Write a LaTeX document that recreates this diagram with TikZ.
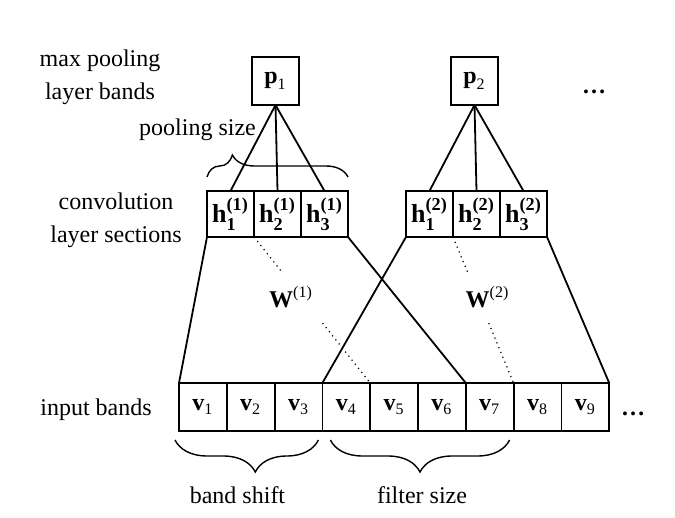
\documentclass[tikz,border=0pt]{standalone}
\usepackage{fontspec}
\setmainfont{Liberation Serif}
\usepackage{amsmath}
\usetikzlibrary{calc}
\usetikzlibrary{decorations.pathreplacing}
% cell widths on the drawing grid
\newcommand{\bandw}{47.8}
\newcommand{\secw}{47}
% one convolution layer section: #1 = section, #2 = left edge
\newcommand{\tikzsection}[2]{%
\foreach \k in {1,2,3} {%
  \node[seccell] (h#1\k) at (#2+\secw*\k-\secw/2,214) {$\textbf{h}^{\textbf{(#1)}}_{\textbf{\k}}$};
}
}

\begin{document}
\begin{tikzpicture}[x=0.5pt,y=-0.5pt,
  font=\fontsize{12}{16.5}\selectfont,
  box/.style={draw,line width=0.9pt,inner sep=0pt,outer sep=0pt},
  bandcell/.style={box,minimum width=23.9pt,minimum height=24pt},
  seccell/.style={box,minimum width=23.5pt,minimum height=23pt,font=\fontsize{13}{15}\selectfont},
  poolcell/.style={box,minimum width=23.5pt,minimum height=24pt},
  wire/.style={line width=0.9pt},
  weight/.style={dotted,line width=0.6pt},
  bracket/.style={decorate,line width=0.7pt},
  caption/.style={align=center,inner sep=0pt}]
\useasboundingbox (0,0) rectangle (675,518);
% input bands
\foreach \i in {1,...,9} {
  \node[bandcell] (v\i) at (179+\bandw*\i-\bandw/2,407) {$\textbf{v}_{\text{\i}}$};
}
% convolution layer sections
\tikzsection{1}{207}
\tikzsection{2}{406}
% max pooling layer bands
\node[poolcell] (p1) at (275.5,81) {$\textbf{p}_{\text{1}}$};
\node[poolcell] (p2) at (474.5,81) {$\textbf{p}_{\text{2}}$};
\node[caption] (more1) at (594,92) {\textbf{\dots}};
\node[caption] (more2) at (633,414) {\textbf{\dots}};

% pooling
\foreach \s in {1,2} {
  \foreach \k in {1,2,3} {
    \draw[wire] (p\s.south) -- (h\s\k.north);
  }
}
% filters
\draw[wire] (h11.south west) -- (v1.north west);
\draw[wire] (h13.south east) -- (v6.north east);
\draw[wire] (h21.south west) -- (v4.north west);
\draw[wire] (h23.south east) -- (v9.north east);
% weights, broken at the W labels
\draw[weight] (h11.south east) -- ($(h11.south east)!0.24!(v4.north east)$)
  ($(h11.south east)!0.59!(v4.north east)$) -- (v4.north east);
\draw[weight] (h21.south east) -- ($(h21.south east)!0.24!(v7.north east)$)
  ($(h21.south east)!0.59!(v7.north east)$) -- (v7.north east);
\node[caption] (w1) at (291,297) {$\textbf{W}^{\text{(1)}}$};
\node[caption] (w2) at (487.5,297) {$\textbf{W}^{\text{(2)}}$};

% braces
\draw[bracket,decoration={brace,amplitude=11pt,aspect=0.18}]
  ($(h11.north west)+(0,-14)$) -- ($(h13.north east)+(0,-14)$);
\draw[bracket,decoration={brace,mirror,amplitude=16pt,aspect=0.56}]
  ($(v1.south west)+(-4,9)$) -- ($(v3.south east)+(-4,9)$);
\draw[bracket,decoration={brace,mirror,amplitude=16pt,aspect=0.5}]
  ($(v4.south west)+(8,9)$) -- ($(v7.south east)+(-4,9)$);

% layer names
\node[caption] (poolname) at (100,77) {max pooling\\layer bands};
\node[caption] (secname) at (116,220) {convolution\\layer sections};
\node[caption] (inname) at (96,410) {input bands};
\node[caption] (poolsize) at (197.5,130) {pooling size};
\node[caption] (shift) at (237.5,495) {band shift};
\node[caption] (fsize) at (422,495) {filter size};
\end{tikzpicture}
\end{document}
